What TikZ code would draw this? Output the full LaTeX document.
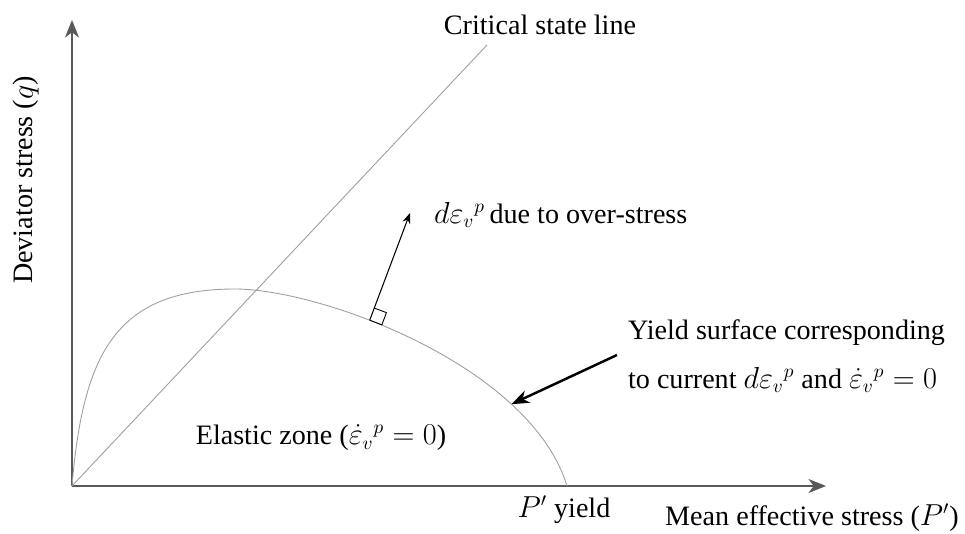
\documentclass[tikz,border=0pt]{standalone}
\usepackage{fontspec}
\setmainfont{Liberation Serif}
\usetikzlibrary{arrows.meta,calc}

\begin{document}
\begin{tikzpicture}[>=stealth, font=\fontsize{16}{19}\selectfont, x=0.02cm, y=-0.02cm]
        \tikzset{axis/.style={draw=black!65, line width=0.9pt, -{Stealth[length=10pt,width=8pt,inset=3pt]}},
                 thin/.style={draw=black!38, line width=0.5pt},
                 lbl/.style={inner sep=1pt}}
        \useasboundingbox (0,0) rectangle (965,534);
        % axes
        \coordinate (O) at (72,486);
        \coordinate (qtop) at (72,20);
        \coordinate (ptop) at (826,486);
        \draw[axis] (O) -- (qtop);
        \draw[axis] (O) -- (ptop);
        \node[lbl, rotate=90] (qlab) at (26,180) {Deviator stress ($q$)};
        \node[lbl] (plab) at (812,518) {Mean effective stress ($P'$)};
        % critical state line
        \coordinate (cslend) at (487,45);
        \draw[thin] (O) -- (cslend);
        \node[lbl] (csl) at (540,25) {Critical state line};
        % yield surface
        \draw[thin] (O) .. controls (83,355) and (115,289) .. (235,289)
                        .. controls (320,289) and (530,365) .. (567,486)
                        coordinate[pos=0.38] (foot) coordinate[pos=0.75] (ytip);
        \node[lbl] (pyield) at (564,510) {$P'$ yield};
        \node[lbl] (elastic) at (321,438) {Elastic zone ($\dot{\varepsilon}_v{}^p = 0$)};
        % plastic strain increment normal to the surface
        \coordinate (ntip) at (410,213);
        \draw[line width=0.6pt, -{Stealth[length=6pt,width=4.5pt,inset=2pt]}] (foot) -- (ntip);
        \draw[line width=0.5pt] (foot) -- ($(foot)!0.26cm!-90:(ntip)$)
              -- ($($(foot)!0.26cm!-90:(ntip)$)+($(foot)!0.26cm!(ntip)$)-(foot)$)
              -- ($(foot)!0.26cm!(ntip)$);
        \node[lbl, anchor=west] (over) at (432,215) {$d\varepsilon_v{}^p$\,due to over-stress};
        % yield surface label
        \node[lbl, anchor=west, align=left, font=\fontsize{16}{28}\selectfont] (ysurf) at (626,356)
              {Yield surface corresponding\\to current $d\varepsilon_v{}^p$ and $\dot{\varepsilon}_v{}^p = 0$};
        \coordinate (ystart) at (617,355);
        \draw[line width=1.4pt, -{Stealth[length=10pt,width=7.5pt,inset=3pt]}] (ystart) -- (ytip);
    \end{tikzpicture}
\end{document}
